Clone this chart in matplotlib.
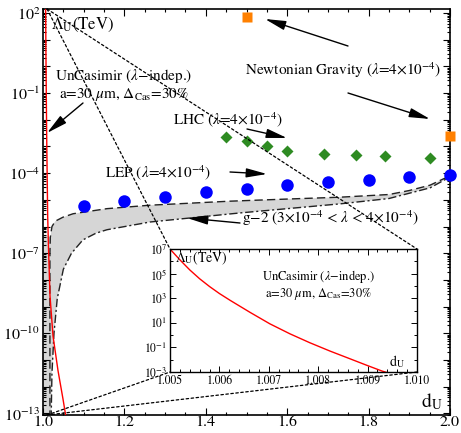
import numpy as np
import matplotlib
matplotlib.use("Agg")
import matplotlib.pyplot as plt
from matplotlib.ticker import FixedLocator, FuncFormatter, NullFormatter
from matplotlib.patches import ConnectionPatch

plt.rcParams["font.family"] = "STIXGeneral"
plt.rcParams["mathtext.fontset"] = "stix"

W, H = 461, 433

# LEP bound (blue circles)
LEP_D = [1.1, 1.2, 1.3, 1.4, 1.5, 1.6, 1.7, 1.8, 1.9, 2.0]
LEP_L = [5.9e-6, 9.1e-6, 1.29e-5, 2.0e-5, 2.57e-5, 3.6e-5, 4.7e-5, 5.6e-5, 7.2e-5, 8.5e-5]

# LHC bound (green diamonds)
LHC_D = [1.45, 1.5, 1.55, 1.6, 1.69, 1.77, 1.84, 1.95]
LHC_L = [2.3e-3, 1.6e-3, 1.05e-3, 6.8e-4, 5.2e-4, 4.8e-4, 4.4e-4, 3.7e-4]

# Newtonian gravity (orange squares)
NG_D = [1.5, 2.0]
NG_L = [71.0, 2.5e-3]

# g-2 band, log10(Lambda_U)
G2_UP_D = [1.017, 1.017, 1.018, 1.022, 1.03, 1.049, 1.074, 1.157, 1.263, 1.459, 1.6, 1.73,
           1.85, 1.9, 1.951, 1.983, 2.0]
G2_UP_LOG = [-13.2, -7.0, -6.4, -6.0, -5.8, -5.65, -5.52, -5.33, -5.2, -5.05, -4.97, -4.9,
             -4.8, -4.65, -4.45, -4.22, -4.1]
G2_LO_D = [1.02, 1.022, 1.027, 1.035, 1.05, 1.07, 1.098, 1.13, 1.157, 1.263, 1.484, 1.73,
           1.85, 1.951, 1.993, 2.0]
G2_LO_LOG = [-13.2, -11.5, -10.0, -8.7, -7.6, -7.0, -6.5, -6.25, -6.12, -5.83, -5.49, -5.15,
             -4.95, -4.55, -4.2, -4.1]

# UnCasimir bound, log10(Lambda_U)
CAS_D = [1.005, 1.0052, 1.0054, 1.0056, 1.0058, 1.006, 1.00622, 1.00662, 1.00702, 1.00743,
         1.00783, 1.00824, 1.00864, 1.00898, 1.00929, 1.0115, 1.0135, 1.0172, 1.0246,
         1.0369, 1.049, 1.056]
CAS_LOG = [7.0, 6.12, 5.3, 4.58, 3.95, 3.38, 2.82, 1.85, 0.92, 0.1,
           -0.62, -1.3, -1.92, -2.45, -2.92, -5.6, -6.8, -8.6, -10.1,
           -11.4, -12.45, -13.1]

YMIN, YMAX = 10 ** -13.06, 10 ** 2.15


def fp(x, y):
    return (x, H - y)


fig = plt.figure(figsize=(W / 100, H / 100), dpi=100)
ax = fig.add_axes([43 / W, 18 / H, 407 / W, 406 / H])
ax.set_yscale("log")
ax.set_xlim(1.0, 2.0)
ax.set_ylim(YMIN, YMAX)

# g-2 band
band_x = [1.0, 1.0] + G2_UP_D[2:] + G2_LO_D[::-1]
band_y = [-13.2, -6.3] + G2_UP_LOG[2:] + G2_LO_LOG[::-1]
ax.fill(band_x, 10 ** np.array(band_y), color="#d6d6d6", lw=0, zorder=1)
ax.plot(G2_UP_D, 10 ** np.array(G2_UP_LOG), color="#222222", lw=1.0,
        ls=(0, (6, 3)), zorder=2)
ax.plot(G2_LO_D, 10 ** np.array(G2_LO_LOG), color="#222222", lw=1.0,
        ls=(0, (6, 2, 1.5, 2)), zorder=2)

ax.plot(CAS_D, 10 ** np.array(CAS_LOG), color="red", lw=1.0, zorder=3)
ax.plot(LEP_D, LEP_L, "o", color="#0000ff", ms=9, mec="none", zorder=4, clip_on=False)
ax.plot(LHC_D, LHC_L, "D", color="#2e8b22", ms=6, mec="none", zorder=4)
ax.plot(NG_D, NG_L, "s", color="#ff8000", ms=7, mec="none", zorder=4, clip_on=False)

# ticks
ax.xaxis.set_major_locator(FixedLocator(np.arange(1.0, 2.01, 0.2)))
ax.xaxis.set_minor_locator(FixedLocator(np.arange(1.0, 2.01, 0.05)))
ax.xaxis.set_major_formatter(FuncFormatter(lambda v, p: "%.1f" % v))
ax.yaxis.set_major_locator(FixedLocator([10.0 ** e for e in range(-13, 3)]))
ax.yaxis.set_minor_locator(FixedLocator([m * 10.0 ** e for e in range(-14, 3) for m in range(2, 10)]))
ax.yaxis.set_minor_formatter(NullFormatter())


def ylab(v, p):
    e = int(round(np.log10(v)))
    return r"$10^{%d}$" % e if (e - 2) % 3 == 0 else ""


ax.yaxis.set_major_formatter(FuncFormatter(ylab))
ax.tick_params(which="both", direction="in", top=True, right=True, labelsize=11.5, width=0.8)
ax.tick_params(which="major", length=5)
ax.tick_params(which="minor", length=2.5)
ax.tick_params(axis="x", pad=0.5)
ax.tick_params(axis="y", pad=2)
for s in ax.spines.values():
    s.set_linewidth(1.2)

# inset
axi = fig.add_axes([170 / W, 61 / H, 247 / W, 123 / H])
axi.set_yscale("log")
axi.set_xlim(1.005, 1.010)
axi.set_ylim(1e-3, 1e7)
axi.plot(CAS_D, 10 ** np.array(CAS_LOG), color="red", lw=1.0)
axi.xaxis.set_major_locator(FixedLocator(np.arange(1.005, 1.0101, 0.001)))
axi.xaxis.set_minor_locator(FixedLocator(np.arange(1.005, 1.0101, 0.0002)))
axi.xaxis.set_major_formatter(FuncFormatter(lambda v, p: "%.3f" % v))
axi.yaxis.set_major_locator(FixedLocator([10.0 ** e for e in range(-3, 8, 2)]))
axi.yaxis.set_minor_locator(FixedLocator([10.0 ** e for e in range(-2, 8, 2)]))
axi.yaxis.set_minor_formatter(NullFormatter())
axi.yaxis.set_major_formatter(FuncFormatter(lambda v, p: r"$10^{%d}$" % int(round(np.log10(v)))))
axi.tick_params(which="both", direction="in", top=True, right=True, labelsize=8.5, width=0.7, pad=2)
axi.tick_params(which="major", length=4)
axi.tick_params(which="minor", length=2)
for s in axi.spines.values():
    s.set_linewidth(1.0)

# zoom connector lines
for xyA, xyB in [((1.01, YMAX), (0, 1)), ((1.01, YMAX), (1, 1)),
                 ((1.01, YMIN), (0, 0)), ((1.01, YMIN), (1, 0))]:
    cp = ConnectionPatch(xyA=xyA, coordsA=ax.transData, xyB=xyB, coordsB=axi.transAxes,
                         color="black", lw=0.9, ls=(0, (2, 2)), zorder=5)
    fig.add_artist(cp)

# labels
fig.text(51 / W, 1 - 25 / H, r"$\Lambda_{\rm U}$(TeV)", fontsize=12, va="center", ha="left")
fig.text(432 / W, 1 - 402 / H, r"d$_{\rm U}$", fontsize=14, va="center", ha="center")
fig.text(175 / W, 1 - 258 / H, r"$\Lambda_{\rm U}$(TeV)", fontsize=10, va="center", ha="left")
fig.text(397 / W, 1 - 362 / H, r"d$_{\rm U}$", fontsize=10, va="center", ha="center")
fig.text(318 / W, 1 - 285 / H, "UnCasimir ($\\lambda$$-$indep.)\na=30 $\\mu$m, $\\Delta_{\\rm Cas}$=30%",
         fontsize=9, va="center", ha="center", linespacing=1.1)

arrow = dict(arrowstyle="-|>,head_length=0.9,head_width=0.2", color="black", lw=1.0,
             mutation_scale=14, shrinkA=0, shrinkB=0)


def note(text, xy_text, tail, head, ha="center"):
    fig.text(xy_text[0] / W, 1 - xy_text[1] / H, text, fontsize=11, ha=ha, va="center",
             linespacing=1.1)
    for t, h in zip(tail, head):
        ax.annotate("", xy=fp(*h), xycoords="figure pixels", xytext=fp(*t),
                    textcoords="figure pixels", arrowprops=arrow, annotation_clip=False)


note("UnCasimir ($\\lambda$$-$indep.)\na=30 $\\mu$m, $\\Delta_{\\rm Cas}$=30%", (124, 85),
     [(83, 103)], [(47, 133)])
note(r"Newtonian Gravity ($\lambda$=4$\times$10$^{-4}$)", (343, 70),
     [(348, 46), (348, 93)], [(265, 19), (430, 119)])
note(r"LHC ($\lambda$=4$\times$10$^{-4}$)", (173, 120), [(247, 129)], [(287, 138)], ha="left")
note(r"LEP ($\lambda$=4$\times$10$^{-4}$)", (105, 173), [(230, 172)], [(267, 174)], ha="left")
note(r"g$-$2 (3$\times$10$^{-4}$ < $\lambda$ < 4$\times$10$^{-4}$)", (242, 218),
     [(240, 223)], [(187, 218)], ha="left")

fig.savefig("out.png", dpi=100)
